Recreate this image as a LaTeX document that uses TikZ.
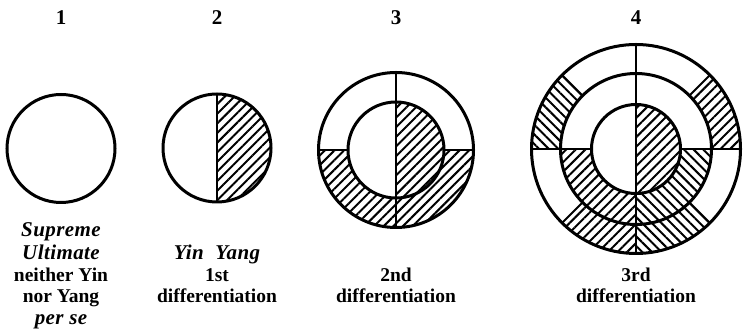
\documentclass[tikz,border=0pt]{standalone}
\usepackage{fontspec}
\setmainfont{Liberation Serif}
\newfontfamily\itf[LetterSpace=2]{Liberation Serif}
\newfontfamily\bfnt{Liberation Serif Bold}
\usetikzlibrary{patterns.meta,calc}
\newcommand\ringpart[6]{% style, center, inner r, outer r, start, end
  \path[#1] ($(#2)+(#5:#4)$) arc[start angle=#5,end angle=#6,radius=#4]
    -- ($(#2)+(#6:#3)$) arc[start angle=#6,end angle=#5,radius=#3] -- cycle;}
\tikzset{
  outline/.style={line width=3pt},
  divline/.style={line width=2.6pt},
  hatchR/.style={pattern={Lines[angle=45,distance=6.8pt,line width=2pt]}},
  hatchL/.style={pattern={Lines[angle=-45,distance=6.8pt,line width=2pt]}},
  num/.style={anchor=base,inner sep=0pt,font=\fontsize{21}{22}\selectfont\bfnt},
  lbl/.style={anchor=base,inner sep=0pt,font=\fontsize{19.5}{22}\selectfont\bfnt},
  ilbl/.style={anchor=base,inner sep=0pt,font=\fontsize{21}{22}\selectfont\itf\bfseries\itshape}
}
\begin{document}
\begin{tikzpicture}[x=1pt,y=1pt]
\useasboundingbox (0,0) rectangle (746,331);
\fill[white] (0,0) rectangle (746,331);
\coordinate (O1) at (61,182.5);
\coordinate (O2) at (217,183);
\coordinate (O3) at (396,181);
\coordinate (O4) at (636,182);

% numbers
\node[num] (n1) at (61,306) {1};
\node[num] (n2) at (217,306) {2};
\node[num] (n3) at (396,306) {3};
\node[num] (n4) at (636,306) {4};

% figure 1
\draw[outline] (O1) circle[radius=54];

% figure 2
\ringpart{hatchR}{O2}{0.01}{54}{90}{-90}
\draw[outline] (O2) circle[radius=54];
\draw[divline] ($(O2)+(0,54)$) -- ($(O2)+(0,-54)$);

% figure 3
\ringpart{hatchR}{O3}{48}{77.5}{180}{360}
\ringpart{hatchR}{O3}{0.01}{48}{90}{-90}
\draw[outline] (O3) circle[radius=77.5];
\draw[outline] (O3) circle[radius=48];
\draw[divline] ($(O3)+(0,77.5)$) -- ($(O3)+(0,-77.5)$);
\draw[divline] ($(O3)+(-77.5,0)$) -- ($(O3)+(-48,0)$);
\draw[divline] ($(O3)+(48,0)$) -- ($(O3)+(77.5,0)$);

% figure 4
\ringpart{hatchR}{O4}{0.01}{44.5}{90}{-90}
\ringpart{hatchR}{O4}{44.5}{75.5}{180}{270}
\ringpart{hatchL}{O4}{44.5}{75.5}{270}{360}
\ringpart{hatchL}{O4}{75.5}{104.5}{135}{180}
\ringpart{hatchR}{O4}{75.5}{104.5}{0}{45}
\ringpart{hatchR}{O4}{75.5}{104.5}{225}{270}
\ringpart{hatchL}{O4}{75.5}{104.5}{270}{315}
\draw[outline] (O4) circle[radius=104.5];
\draw[outline] (O4) circle[radius=75.5];
\draw[outline] (O4) circle[radius=44.5];
\draw[divline] ($(O4)+(0,104.5)$) -- ($(O4)+(0,-104.5)$);
\draw[divline] ($(O4)+(-104.5,0)$) -- ($(O4)+(-44.5,0)$);
\draw[divline] ($(O4)+(44.5,0)$) -- ($(O4)+(104.5,0)$);
\foreach \a in {45,135,225,315}
  \draw[line width=2pt] ($(O4)+(\a:75.5)$) -- ($(O4)+(\a:104.5)$);

% labels
\node[ilbl] (t1a) at (61,94) {Supreme};
\node[ilbl] (t1b) at (61,71.5) {Ultimate};
\node[lbl] (t1c) at (61,49.5) {neither Yin};
\node[lbl] (t1d) at (61,28) {nor Yang};
\node[ilbl] (t1e) at (61,6) {per se};
\node[ilbl] (t2a) at (217,71.5) {Yin\ \ Yang};
\node[lbl] (t2b) at (217,49.5) {1st};
\node[lbl] (t2c) at (217,28) {differentiation};
\node[lbl] (t3a) at (396,49.5) {2nd};
\node[lbl] (t3b) at (396,28) {differentiation};
\node[lbl] (t4a) at (636,49.5) {3rd};
\node[lbl] (t4b) at (636,28) {differentiation};
\end{tikzpicture}
\end{document}
